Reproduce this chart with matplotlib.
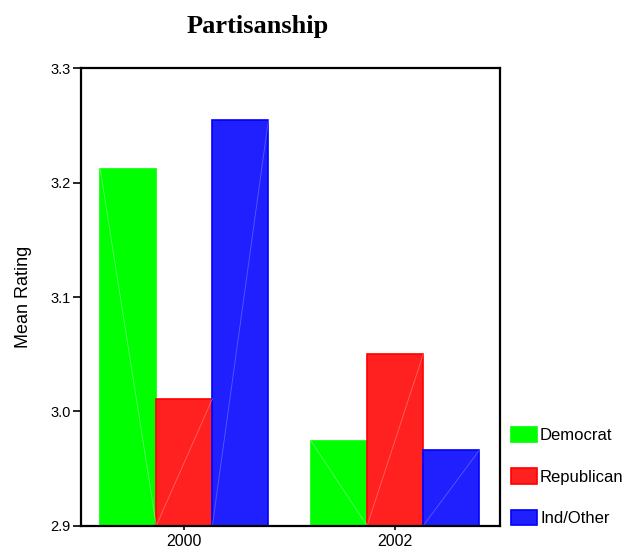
import numpy as np
import matplotlib.pyplot as plt

years = ['2000', '2002']
parties = ['Democrat', 'Republican', 'Ind/Other']
democrat = [3.212, 2.974]
republican = [3.011, 3.050]
ind_other = [3.255, 2.966]

fills = ['#00ff00', '#ff2020', '#2020ff']
edges = ['#00ff00', '#ff0000', '#0000ff']
shines = ['#a0ffa0', '#ff9090', '#8080ff']

plt.rcParams['font.family'] = ['Liberation Sans', 'DejaVu Sans']

fig = plt.figure(figsize=(6.26, 5.52), dpi=100)
ax = fig.add_axes([0.1294, 0.0476, 0.6693, 0.8287])

x = np.arange(len(years))
w = 0.266
for i, (vals, name) in enumerate(zip([democrat, republican, ind_other], parties)):
    bars = ax.bar(x + (i - 1) * w, np.array(vals) - 2.9, w, bottom=2.9,
                  color=fills[i], edgecolor=edges[i], linewidth=1.2, label=name)
    # faint diagonal highlight across each bar
    for b in bars:
        x0, x1 = b.get_x(), b.get_x() + b.get_width()
        y0, y1 = b.get_y(), b.get_y() + b.get_height()
        if i == 0:
            ax.plot([x0, x1], [y1, y0], color=shines[i], lw=0.6, alpha=0.6)
        else:
            ax.plot([x0, x1], [y0, y1], color=shines[i], lw=0.6, alpha=0.6)

ax.set_xlim(-0.49, 1.497)
ax.set_ylim(2.9, 3.3)
ax.set_yticks([2.9, 3.0, 3.1, 3.2, 3.3])
ax.set_yticklabels(['2.9', '3.0', '3.1', '3.2', '3.3'])
ax.set_xticks(x)
ax.set_xticklabels(years)
ax.tick_params(axis='y', direction='out', length=6, width=1.2, labelsize=10.5, pad=1.5)
ax.tick_params(axis='x', direction='out', length=3, width=1.2, labelsize=11.5, pad=3)
for s in ax.spines.values():
    s.set_linewidth(1.6)

ax.set_ylabel('Mean Rating', fontsize=13)
ax.yaxis.set_label_coords(-0.117, 0.5)

fig.text(0.411, 0.940, 'Partisanship', ha='center', va='baseline',
         fontsize=19, fontweight='bold', family=['Liberation Serif', 'DejaVu Serif'])

ax.legend(loc='lower left', bbox_to_anchor=(1.01, -0.015), frameon=False,
          fontsize=12, handlelength=1.55, handleheight=1.05, handletextpad=0.2,
          labelspacing=1.5, borderaxespad=0)

fig.savefig('out.png', dpi=100)
